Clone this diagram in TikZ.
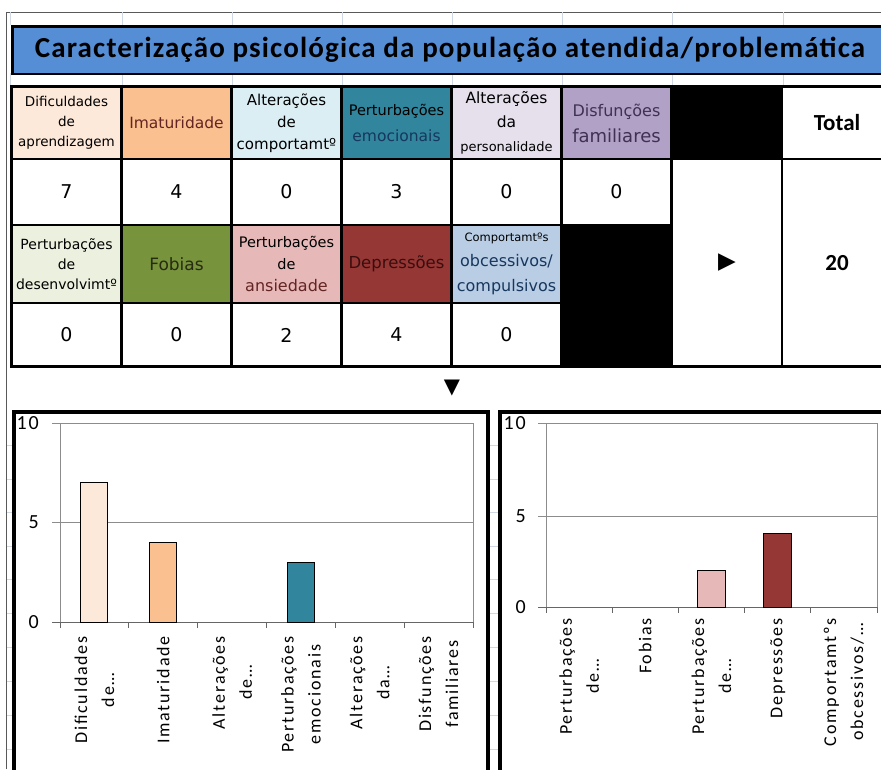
\documentclass[tikz,border=0pt]{standalone}
\usepackage{fontspec}
\setmainfont{Carlito}
\newfontfamily\vfont{DejaVu Sans}
\newfontfamily\chfont[LetterSpace=10]{Carlito}
\newfontfamily\tfont[LetterSpace=4]{Carlito}
\usetikzlibrary{positioning,calc}
\usepackage{xcolor}
\definecolor{cTitle}{HTML}{558ED5}
\definecolor{cDif}{HTML}{FDE9D9}
\definecolor{cIma}{HTML}{FAC090}
\definecolor{cAlc}{HTML}{DBEEF4}
\definecolor{cPem}{HTML}{31859C}
\definecolor{cAlp}{HTML}{E5E0EC}
\definecolor{cDis}{HTML}{B2A1C7}
\definecolor{cPde}{HTML}{EBF1DE}
\definecolor{cFob}{HTML}{77933C}
\definecolor{cPan}{HTML}{E6B9B8}
\definecolor{cDep}{HTML}{953735}
\definecolor{cCom}{HTML}{B9CDE5}
\definecolor{tRed}{HTML}{632523}
\definecolor{tNavy}{HTML}{17375E}
\definecolor{tPurple}{HTML}{3F3151}
\definecolor{tOlive}{HTML}{262B12}
\definecolor{tDark}{HTML}{3A0E0E}
\definecolor{gridc}{HTML}{D0D7E5}
\tikzstyle{sheet}=[draw=gridc, line width=0.8pt]
\tikzstyle{cellb}=[draw=black, line width=2.5pt, minimum width=110pt, inner sep=0pt, align=center]
\tikzstyle{hdr}=[cellb, minimum height=72pt, font=\vfont\fontsize{15}{22}\selectfont]
\tikzstyle{hdrtwo}=[hdr, minimum height=78pt]
\tikzstyle{val}=[cellb, fill=white, minimum height=66pt, font=\vfont\fontsize{19}{20}\selectfont]
\tikzstyle{valtwo}=[val, minimum height=64pt]
\tikzstyle{chartbox}=[draw=black, line width=4pt, fill=white]
\tikzstyle{plotl}=[draw=black!45, line width=0.9pt]
\tikzstyle{axisl}=[draw=black!60, line width=0.9pt]
\tikzstyle{barb}=[draw=black, line width=1pt]
\tikzstyle{xlab}=[rotate=90, anchor=east, align=center, inner sep=0pt, font=\chfont\fontsize{18}{27}\selectfont]
\tikzstyle{ylab}=[anchor=east, inner sep=0pt, font=\chfont\fontsize{20}{22}\selectfont]

\begin{document}
\begin{tikzpicture}[x=1pt, y=-1pt, node distance=110pt, on grid]
\path[use as bounding box, clip] (0,0) rectangle (881,769);

% sheet lines
\draw[line width=0.8pt, black!65] (6,769) -- (6,12) -- (881,12);
\foreach \x in {10,122,232,342,452,562,672,783}{
    \draw[sheet] (\x,12) -- (\x,25);
    \draw[sheet] (\x,73) -- (\x,86);
}
\foreach \y in {445,479,512,546,579,613,647,681,715,749}{
    \draw[sheet] (7,\y) -- (12,\y);
    \draw[sheet] (490,\y) -- (498,\y);
}

% title
\node[draw=black, line width=2.5pt, fill=cTitle, minimum width=889pt, minimum height=47.5pt, anchor=north west] (bar) at (11,25) {};
\node[font=\tfont\bfseries\fontsize{29}{30}\selectfont] (title) at (450,50) {Caracterização psicológica da população atendida/problemática};

% table, first block
\node[hdr, fill=cDif, font=\vfont\fontsize{13.5}{20}\selectfont] (h1) at (66.5,123) {Dificuldades\\de\\aprendizagem};
\node[hdr, fill=cIma, text=tRed, font=\vfont\fontsize{15.5}{22}\selectfont, right=of h1] (h2) {Imaturidade};
\node[hdr, fill=cAlc, right=of h2] (h3) {Alterações\\de\\comportamtº};
\node[hdr, fill=cPem, font=\vfont\fontsize{14.5}{26}\selectfont, right=of h3] (h4) {Perturbações\\{\color{tNavy}\fontsize{15.5}{26}\selectfont emocionais}};
\node[hdr, fill=cAlp, font=\vfont\fontsize{15.5}{24}\selectfont, right=of h4] (h5) {Alterações\\da\\{\fontsize{13}{20}\selectfont personalidade}};
\node[hdr, fill=cDis, text=tPurple, font=\vfont\fontsize{16}{26}\selectfont, right=of h5] (h6) {Disfunções\\{\fontsize{18}{26}\selectfont familiares}};

\node[val, below=69pt of h1] (v1) {7};
\node[val, below=69pt of h2] (v2) {4};
\node[val, below=69pt of h3] (v3) {0};
\node[val, below=69pt of h4] (v4) {3};
\node[val, below=69pt of h5] (v5) {0};
\node[val, below=69pt of h6] (v6) {0};

% table, second block
\node[hdrtwo, fill=cPde, font=\vfont\fontsize{14}{20}\selectfont, below=72pt of v1] (h7) {Perturbações\\de\\desenvolvimtº};
\node[hdrtwo, fill=cFob, text=tOlive, font=\vfont\fontsize{17}{22}\selectfont, right=of h7] (h8) {Fobias};
\node[hdrtwo, fill=cPan, font=\vfont\fontsize{14.5}{22}\selectfont, right=of h8] (h9) {Perturbações\\de\\{\color{tRed}\fontsize{16}{22}\selectfont ansiedade}};
\node[hdrtwo, fill=cDep, text=tDark, font=\vfont\fontsize{16.5}{22}\selectfont, right=of h9] (h10) {Depressões};
\node[hdrtwo, fill=cCom, text=tNavy, font=\vfont\fontsize{16}{25}\selectfont, right=of h10] (h11) {{\color{black}\fontsize{11.5}{25}\selectfont Comportamtºs}\\obcessivos/\\compulsivos};

\node[valtwo, below=71pt of h7] (v7) {0};
\node[valtwo, below=71pt of h8] (v8) {0};
\node[valtwo, below=71pt of h9] (v9) {2};
\node[valtwo, below=71pt of h10] (v10) {4};
\node[valtwo, below=71pt of h11] (v11) {0};

% merged cells
\node[cellb, fill=black, minimum height=72pt] (blka) at (727,123) {};
\node[cellb, fill=black, minimum height=142pt] (blkb) at (617,296) {};
\node[cellb, fill=white, minimum height=208pt, font=\vfont\fontsize{23}{24}\selectfont] (next) at (727,263) {▶};
\node[cellb, fill=white, minimum height=72pt, font=\bfseries\fontsize{23}{24}\selectfont] (tot) at (837,123) {Total};
\node[cellb, fill=white, minimum height=208pt, font=\bfseries\fontsize{23}{24}\selectfont] (sum) at (837,263) {20};
\draw[line width=3pt] (11,86.5) rectangle (900,366.5);

\node[font=\vfont\fontsize{21}{22}\selectfont] (down) at (452,388) {▼};

% left chart
\draw[chartbox] (14,411.5) rectangle (488,800);
\draw[plotl] (60,423) rectangle (473,622);
\draw[plotl] (60,522) -- (473,522);
\foreach \y in {423,522}
    \draw[plotl] (52,\y) -- (60,\y);
\draw[axisl] (52,622) -- (473,622);
\foreach \k in {0,...,6}
    \draw[axisl] ({60+\k*68.83},622) -- ++(0,6);
\node[ylab] (ya10) at (39,423) {10};
\node[ylab] (ya5) at (39,522) {5};
\node[ylab] (ya0) at (39,622) {0};
\foreach \k/\v/\c in {1/7/cDif,2/4/cIma,4/3/cPem}
    \draw[barb, fill=\c] ({60+(\k-0.5)*68.83-13.5},622) rectangle ++(27,{-\v*19.9});
\foreach \k/\t in {1/{Dificuldades\\de…},2/{Imaturidade},3/{Alterações\\de…},4/{Perturbações\\emocionais},5/{Alterações\\da…},6/{Disfunções\\familiares}}
    \node[xlab] (la\k) at ({60+(\k-0.5)*68.83},636) {\t};

% right chart
\draw[chartbox] (500,411.5) rectangle (900,800);
\draw[plotl] (546,423) rectangle (877,607);
\draw[plotl] (546,516) -- (877,516);
\foreach \y in {423,516}
    \draw[plotl] (538,\y) -- (546,\y);
\draw[axisl] (538,607) -- (877,607);
\foreach \k in {0,...,5}
    \draw[axisl] ({546+\k*66.2},607) -- ++(0,6);
\node[ylab] (yb10) at (526,423) {10};
\node[ylab] (yb5) at (526,516) {5};
\node[ylab] (yb0) at (526,607) {0};
\foreach \k/\v/\c in {3/2/cPan,4/4/cDep}
    \draw[barb, fill=\c] ({546+(\k-0.5)*66.2-14},607) rectangle ++(28,{-\v*18.4});
\foreach \k/\t in {1/{Perturbações\\de…},2/{Fobias},3/{Perturbações\\de…},4/{Depressões},5/{Comportamtºs\\obcessivos/…}}
    \node[xlab] (lb\k) at ({546+(\k-0.5)*66.2},618) {\t};

\end{tikzpicture}
\end{document}
